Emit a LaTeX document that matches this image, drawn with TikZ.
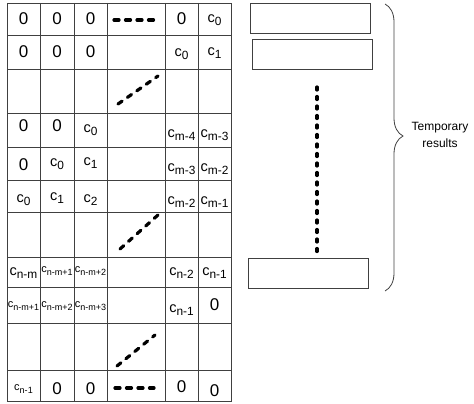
\documentclass[tikz,border=0pt]{standalone}
\usepackage{fontspec}
\setmainfont{Liberation Sans}
\usetikzlibrary{positioning,decorations.pathreplacing}
\tikzstyle{zero}=[inner sep=0pt, font=\fontsize{17}{17}\selectfont]
\tikzstyle{coef}=[inner sep=0pt, font=\fontsize{14.5}{14.5}\selectfont]
\tikzstyle{scoef}=[inner sep=0pt, font=\fontsize{11}{11}\selectfont]
\tikzstyle{gap}=[line width=3.2pt, line cap=round, dash pattern=on 5pt off 6.5pt]
\tikzstyle{vdots}=[line width=3.2pt, line cap=round, dash pattern=on 3pt off 6.5pt]
\tikzstyle{buf}=[draw=black!75, line width=0.8pt, minimum width=120pt, minimum height=30pt, inner sep=0pt]
\newcommand{\cf}[1]{c\raisebox{-.45ex}{\scalebox{.82}{#1}}}

\begin{document}
\begin{tikzpicture}
[x=1pt, y=-1pt, line join=miter]
 \useasboundingbox (0,0) rectangle (474,404);
 % coefficient table
 \draw[draw=black!75, line width=0.8pt] (7,3) rectangle (231,401);
 \foreach \x in {40,74,107,165,198}
   \draw[draw=black!75, line width=0.8pt] (\x,3) -- (\x,401);
 \foreach \y in {35,69,113,147,180,212,257,287,323,370}
   \draw[draw=black!75, line width=0.8pt] (7,\y) -- (231,\y);
 % row 1
 \node[zero] (a11) at (23.5,19) {0};
 \node[zero] (a12) at (57,19) {0};
 \node[zero] (a13) at (90.5,19) {0};
 \coordinate (h1a) at (114,20);
 \coordinate (h1b) at (154,20);
 \node[zero] (a15) at (181.5,19) {0};
 \node[coef] (a16) at (214.5,20) {\cf{0}};
 % row 2
 \node[zero] (a21) at (23.5,52) {0};
 \node[zero] (a22) at (57,52) {0};
 \node[zero] (a23) at (90.5,52) {0};
 \node[coef] (a25) at (181.5,54) {\cf{0}};
 \node[coef] (a26) at (214.5,53) {\cf{1}};
 % row 3
 \coordinate (d3a) at (118,104);
 \coordinate (d3b) at (158,76);
 % row 4
 \node[zero] (a41) at (23.5,126) {0};
 \node[zero] (a42) at (57,126) {0};
 \node[coef] (a43) at (90.5,130) {\cf{0}};
 \node[coef] (a45) at (181.5,135) {\cf{m-4}};
 \node[coef] (a46) at (214.5,135) {\cf{m-3}};
 % row 5
 \node[zero] (a51) at (23.5,165) {0};
 \node[coef] (a52) at (57,164) {\cf{0}};
 \node[coef] (a53) at (90.5,163) {\cf{1}};
 \node[coef] (a55) at (181.5,169) {\cf{m-3}};
 \node[coef] (a56) at (214.5,169) {\cf{m-2}};
 % row 6
 \node[coef] (a61) at (23.5,200) {\cf{0}};
 \node[coef] (a62) at (57,198) {\cf{1}};
 \node[coef] (a63) at (90.5,200) {\cf{2}};
 \node[coef] (a65) at (181.5,202) {\cf{m-2}};
 \node[coef] (a66) at (214.5,202) {\cf{m-1}};
 % row 7
 \coordinate (d7a) at (120,249);
 \coordinate (d7b) at (158,215);
 % row 8
 \node[coef] (a81) at (23.5,273) {\cf{n-m}};
 \node[scoef] (a82) at (57,271) {\cf{n-m+1}};
 \node[scoef] (a83) at (90.5,271) {\cf{n-m+2}};
 \node[coef] (a85) at (181.5,273) {\cf{n-2}};
 \node[coef] (a86) at (214.5,273) {\cf{n-1}};
 % row 9
 \node[scoef] (a91) at (23.5,306) {\cf{n-m+1}};
 \node[scoef] (a92) at (57,306) {\cf{n-m+2}};
 \node[scoef] (a93) at (90.5,306) {\cf{n-m+3}};
 \node[coef] (a95) at (181.5,310) {\cf{n-1}};
 \node[zero] (a96) at (214.5,305) {0};
 % row 10
 \coordinate (d10a) at (117,366);
 \coordinate (d10b) at (155,335);
 % row 11
 \node[scoef] (a111) at (23.5,389) {\cf{n-1}};
 \node[zero] (a112) at (57,389) {0};
 \node[zero] (a113) at (90.5,389) {0};
 \coordinate (h11a) at (115,388);
 \coordinate (h11b) at (154,388);
 \node[zero] (a115) at (181.5,387) {0};
 \node[zero] (a116) at (214.5,391) {0};
 % skipped entries
 \draw[gap] (h1a) -- (h1b);
 \draw[gap] (h11a) -- (h11b);
 \draw[gap] (d3a) -- (d3b);
 \draw[gap] (d7a) -- (d7b);
 \draw[gap] (d10a) -- (d10b);
 % partial results
 \node[buf] (buf1) at (310,18) {};
 \node[buf] (buf2) [below=6pt of buf1, xshift=2pt] {};
 \node[buf] (bufn) at (308.5,273) {};
 \coordinate (dtop) at (317,87);
 \coordinate (dbot) at (317,253);
 \draw[vdots] (dtop) -- (dbot);
 \coordinate (btop) at (385,4);
 \coordinate (bbot) at (385,291);
 \draw[black!75, line width=0.8pt, decorate,
   decoration={brace, amplitude=18pt, aspect=0.46}] (btop) -- (bbot);
 \node[align=center, inner sep=0pt, font=\fontsize{12}{17}\selectfont] (tmp) at (440,135) {Temporary\\results};
\end{tikzpicture}
\end{document}
